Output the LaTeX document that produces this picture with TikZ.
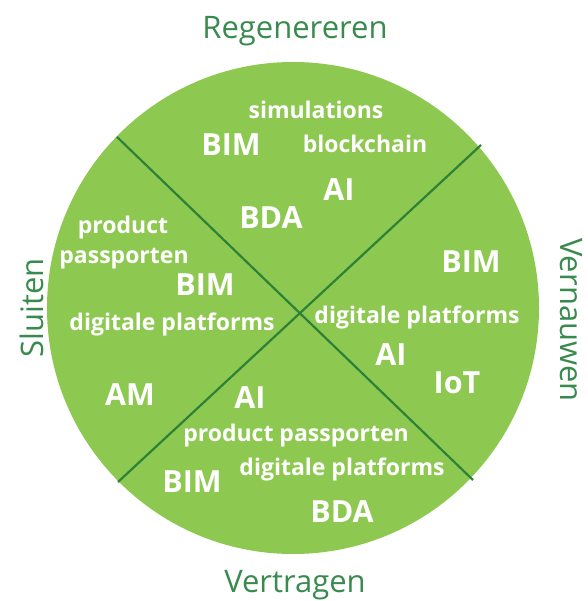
\documentclass[tikz,border=0pt]{standalone}
\usepackage{fontspec}
\setmainfont{Open Sans}
\definecolor{fillg}{RGB}{141,201,80}
\definecolor{lineg}{RGB}{45,130,56}
\definecolor{labg}{RGB}{56,138,78}
\begin{document}
\begin{tikzpicture}[x=1pt,y=-1pt,
  big/.style={text=white,font=\bfseries\fontsize{30.5}{30.5}\selectfont,inner sep=0pt,text height=21.8pt,text depth=0pt},
  small/.style={text=white,font=\bfseries\fontsize{23}{23}\selectfont,inner sep=0pt,text height=16.4pt,text depth=0pt},
  lab/.style={text=labg,font=\fontsize{31}{31}\selectfont,inner sep=0pt,text height=22pt,text depth=0pt},
  divider/.style={draw=lineg,line width=2.2pt}]
\useasboundingbox (0,0) rectangle (587,601);
\fill[fillg] (293,308) circle (246);
\coordinate (ul) at (117,137);
\coordinate (lr) at (473,480);
\coordinate (ur) at (481,145);
\coordinate (ll) at (118,482);
\draw[divider] (ul) -- (lr);
\draw[divider] (ur) -- (ll);
% labels
\node[lab] (reg) at (295,28) {Regenereren};
\node[lab] (ver) at (295,581) {Vertragen};
\node[lab,rotate=90] (slu) at (32,308) {Sluiten};
\node[lab,rotate=-90] (vern) at (571,320) {Vernauwen};
% top
\node[small] (t1) at (316,110) {simulations};
\node[big] (t2) at (231,145) {BIM};
\node[small] (t3) at (365,144) {blockchain};
\node[big] (t4) at (339,190) {AI};
\node[big] (t5) at (271,218) {BDA};
% left
\node[small] (l1) at (123,225) {product};
\node[small] (l2) at (124,255) {passporten};
\node[big] (l3) at (205,285) {BIM};
\node[small] (l4) at (172,322) {digitale platforms};
\node[big] (l5) at (130,395) {AM};
% right
\node[big] (r1) at (471,262) {BIM};
\node[small] (r2) at (417,315) {digitale platforms};
\node[big] (r3) at (391,355) {AI};
\node[big] (r4) at (457,383) {IoT};
% bottom
\node[big] (b1) at (250,398) {AI};
\node[small] (b2) at (296,433) {product passporten};
\node[small] (b3) at (342,467) {digitale platforms};
\node[big] (b4) at (192,482) {BIM};
\node[big] (b5) at (342,512) {BDA};
\end{tikzpicture}
\end{document}
